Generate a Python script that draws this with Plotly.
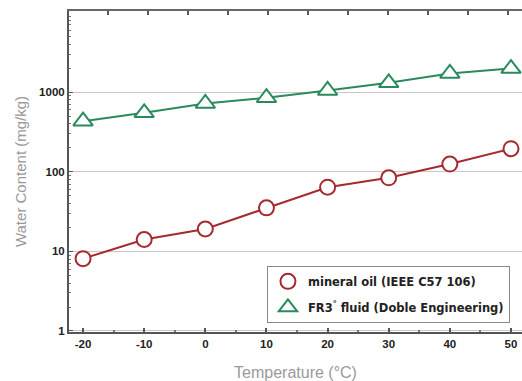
import plotly.graph_objects as go

temperature = [-20, -10, 0, 10, 20, 30, 40, 50]
mineral_oil = [8.1, 14.1, 19.1, 35.2, 64, 84, 125, 195]
fr3_fluid = [432, 551, 721, 851, 1050, 1313, 1722, 1983]

x_ticks = [-20, -10, 0, 10, 20, 30, 40, 50]
x_tick_labels = ["-20", "-10", "0", "10", "20", "30", "40", "50"]
y_ticks = [1, 10, 100, 1000]
y_tick_labels = ["1", "10", "100", "1000"]
y_minor = [m * 10 ** k for k in range(0, 4) for m in range(2, 10)]

names = ["mineral oil (IEEE C57 106)", "FR3<sup>°</sup> fluid (Doble Engineering)"]

RED = "#a52a30"
GREEN = "#2b8a5c"
FONT = "Liberation Sans"

circle = dict(symbol="circle", size=15, color="white", line=dict(color=RED, width=2))
tri = dict(symbol="triangle-up", size=17, color="white", line=dict(color=GREEN, width=2))

fig = go.Figure()
fig.add_trace(go.Scatter(x=temperature, y=mineral_oil, mode="lines+markers",
                         line=dict(color=RED, width=2), marker=circle, showlegend=False))
fig.add_trace(go.Scatter(x=temperature, y=fr3_fluid, mode="lines+markers",
                         line=dict(color=GREEN, width=2), marker=tri, showlegend=False))
# legend-only entries (marker icon without line, as in the reference)
fig.add_trace(go.Scatter(x=[None], y=[None], mode="markers", name=names[0], marker=circle,
                         legendgroup="a"))
fig.add_trace(go.Scatter(x=[None], y=[None], mode="markers", name=names[1], marker=tri,
                         legendgroup="b"))
# empty trace so the top (secondary) axis gets drawn
fig.add_trace(go.Scatter(x=[], y=[], xaxis="x2", showlegend=False, hoverinfo="skip"))

fig.update_layout(
    width=522, height=381,
    margin=dict(l=69, r=0, t=11, b=49, autoexpand=False),
    paper_bgcolor="white", plot_bgcolor="white",
    font=dict(family=FONT, color="#333333", size=12),
    showlegend=True,
    legend=dict(
        x=0.437, y=0.206, xanchor="left", yanchor="top",
        bgcolor="white", bordercolor="#888888", borderwidth=1,
        font=dict(family="DejaVu Sans", size=11.5, color="#222222", weight="bold"),
        itemwidth=30, tracegroupgap=7, entrywidth=198,
    ),
    xaxis=dict(
        range=[-22.3, 51.8], tickvals=x_ticks, ticktext=x_tick_labels,
        ticks="inside", ticklen=4, tickwidth=1.5, tickcolor="#555555",
        showline=True, linecolor="#555555", linewidth=2,
        showgrid=False, zeroline=False,
        minor=dict(dtick=5, tick0=0, ticks="inside", ticklen=2, tickcolor="#777777"),
        tickfont=dict(family=FONT, size=11.5, color="#222222", weight="bold"),
        title=dict(text="Temperature (°C)", font=dict(family=FONT, size=16, color="#999999"), standoff=19),
    ),
    xaxis2=dict(
        overlaying="x", side="top", range=[-0.975, 10.35], dtick=1, tick0=0,
        ticks="inside", ticklen=4, tickwidth=1.5, tickcolor="#555555",
        showticklabels=False, showline=True, linecolor="#666666", linewidth=2,
        showgrid=False, zeroline=False,
    ),
    yaxis=dict(
        type="log", range=[-0.013, 4.02], tickvals=y_ticks, ticktext=y_tick_labels,
        ticks="inside", ticklen=4, tickcolor="#555555",
        showline=True, linecolor="#555555", linewidth=2,
        showgrid=True, gridcolor="#c8c8c8", gridwidth=1, zeroline=False,
        minor=dict(tickvals=y_minor, ticks="inside", ticklen=2, tickcolor="#777777", showgrid=False),
        tickfont=dict(family=FONT, size=11.5, color="#222222", weight="bold"),
        title=dict(text="Water Content (mg/kg)", font=dict(family=FONT, size=15, color="#999999"), standoff=9),
    ),
)

fig.write_html("out.html", config={"displayModeBar": False},
               post_script="document.body.style.margin='0';document.body.style.overflow='hidden';")
